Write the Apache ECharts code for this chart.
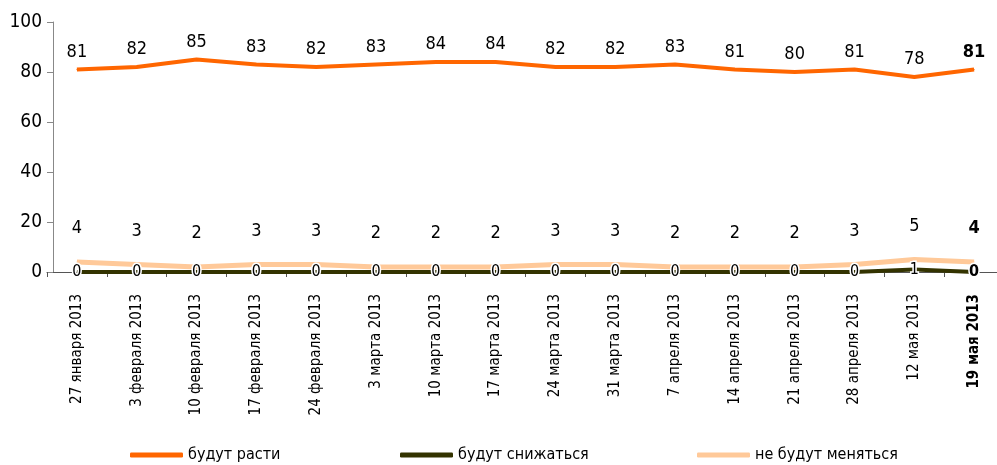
<!DOCTYPE html>
<html>
<head>
<meta charset="utf-8">
<script src="https://cdn.jsdelivr.net/npm/echarts@6/dist/echarts.min.js"></script>
<style>
  html, body { margin: 0; padding: 0; background: #fff; }
  #chart { width: 997px; height: 465px; }
</style>
</head>
<body>
<div id="chart"></div>
<script>
// даты опросов
const dates = ['27 января 2013', '3 февраля 2013', '10 февраля 2013', '17 февраля 2013',
  '24 февраля 2013', '3 марта 2013', '10 марта 2013', '17 марта 2013', '24 марта 2013',
  '31 марта 2013', '7 апреля 2013', '14 апреля 2013', '21 апреля 2013', '28 апреля 2013',
  '12 мая 2013', '19 мая 2013']

const seriesNames = ['будут расти', 'будут снижаться', 'не будут меняться']
const grow = [81, 82, 85, 83, 82, 83, 84, 84, 82, 82, 83, 81, 80, 81, 78, 81]
const fall = [0, 0, 0, 0, 0, 0, 0, 0, 0, 0, 0, 0, 0, 0, 1, 0]
const same = [4, 3, 2, 3, 3, 2, 2, 2, 3, 3, 2, 2, 2, 3, 5, 4]
const yTicks = [0, 20, 40, 60, 80, 100]

const colors = ['#FF6600', '#333300', '#FFC999']
const font = '"DejaVu Sans Condensed", "Liberation Sans Narrow", sans-serif'
const last = dates.length - 1

// последняя точка выделена жирным
const withBoldLast = arr => arr.map((v, i) =>
  i === last ? {value: v, label: {fontWeight: 'bold'}} : v)

const chart = echarts.init(document.getElementById('chart'))

const legendLefts = [125, 395, 692]

chart.setOption({
  animation: false,
  textStyle: {fontFamily: font},
  grid: {left: 47, top: 22, width: 957, height: 250, outerBoundsMode: 'none', containLabel: false},
  legend: seriesNames.map((name, i) => ({
    left: legendLefts[i],
    top: 442,
    icon: 'roundRect',
    itemWidth: 53,
    itemHeight: 5,
    itemGap: 6,
    textStyle: {fontSize: 16, color: '#000', fontFamily: font},
    data: [{name: name, itemStyle: {color: colors[i]}}]
  })),
  xAxis: {
    type: 'category',
    data: dates.map((d, i) => i === last ? {value: d, textStyle: {fontWeight: 'bold'}} : d),
    axisLine: {lineStyle: {color: '#555', width: 1}},
    axisTick: {show: true, length: 5, lineStyle: {color: '#555'}},
    axisLabel: {rotate: 90, margin: 22, fontSize: 15, color: '#000', fontFamily: font, interval: 0}
  },
  yAxis: {
    type: 'value',
    min: yTicks[0],
    max: yTicks[yTicks.length - 1],
    interval: 20,
    offset: -6,
    axisLine: {show: true, lineStyle: {color: '#888'}},
    axisTick: {show: true, length: 6, lineStyle: {color: '#888'}},
    splitLine: {show: false},
    axisLabel: {fontSize: 19, color: '#000', margin: 11, fontFamily: font}
  },
  series: [
    {
      name: seriesNames[0],
      type: 'line',
      data: withBoldLast(grow),
      symbol: 'circle',
      symbolSize: 1,
      itemStyle: {color: colors[0]},
      lineStyle: {color: colors[0], width: 4},
      label: {show: true, position: 'top', distance: 8, fontSize: 18, color: '#000', fontFamily: font},
      z: 2
    },
    {
      name: seriesNames[2],
      type: 'line',
      data: withBoldLast(same),
      symbol: 'circle',
      symbolSize: 1,
      itemStyle: {color: colors[2]},
      lineStyle: {color: colors[2], width: 5},
      label: {show: true, position: 'top', distance: 24, fontSize: 18, color: '#000', fontFamily: font},
      z: 3
    },
    {
      name: seriesNames[1],
      type: 'line',
      data: withBoldLast(fall),
      symbol: 'circle',
      symbolSize: 1,
      itemStyle: {color: colors[1]},
      lineStyle: {color: colors[1], width: 4},
      label: {
        show: true, position: 'inside', fontSize: 16, color: '#000', fontFamily: font,
        textBorderColor: '#fff', textBorderWidth: 3
      },
      z: 4
    }
  ]
})
</script>
</body>
</html>
